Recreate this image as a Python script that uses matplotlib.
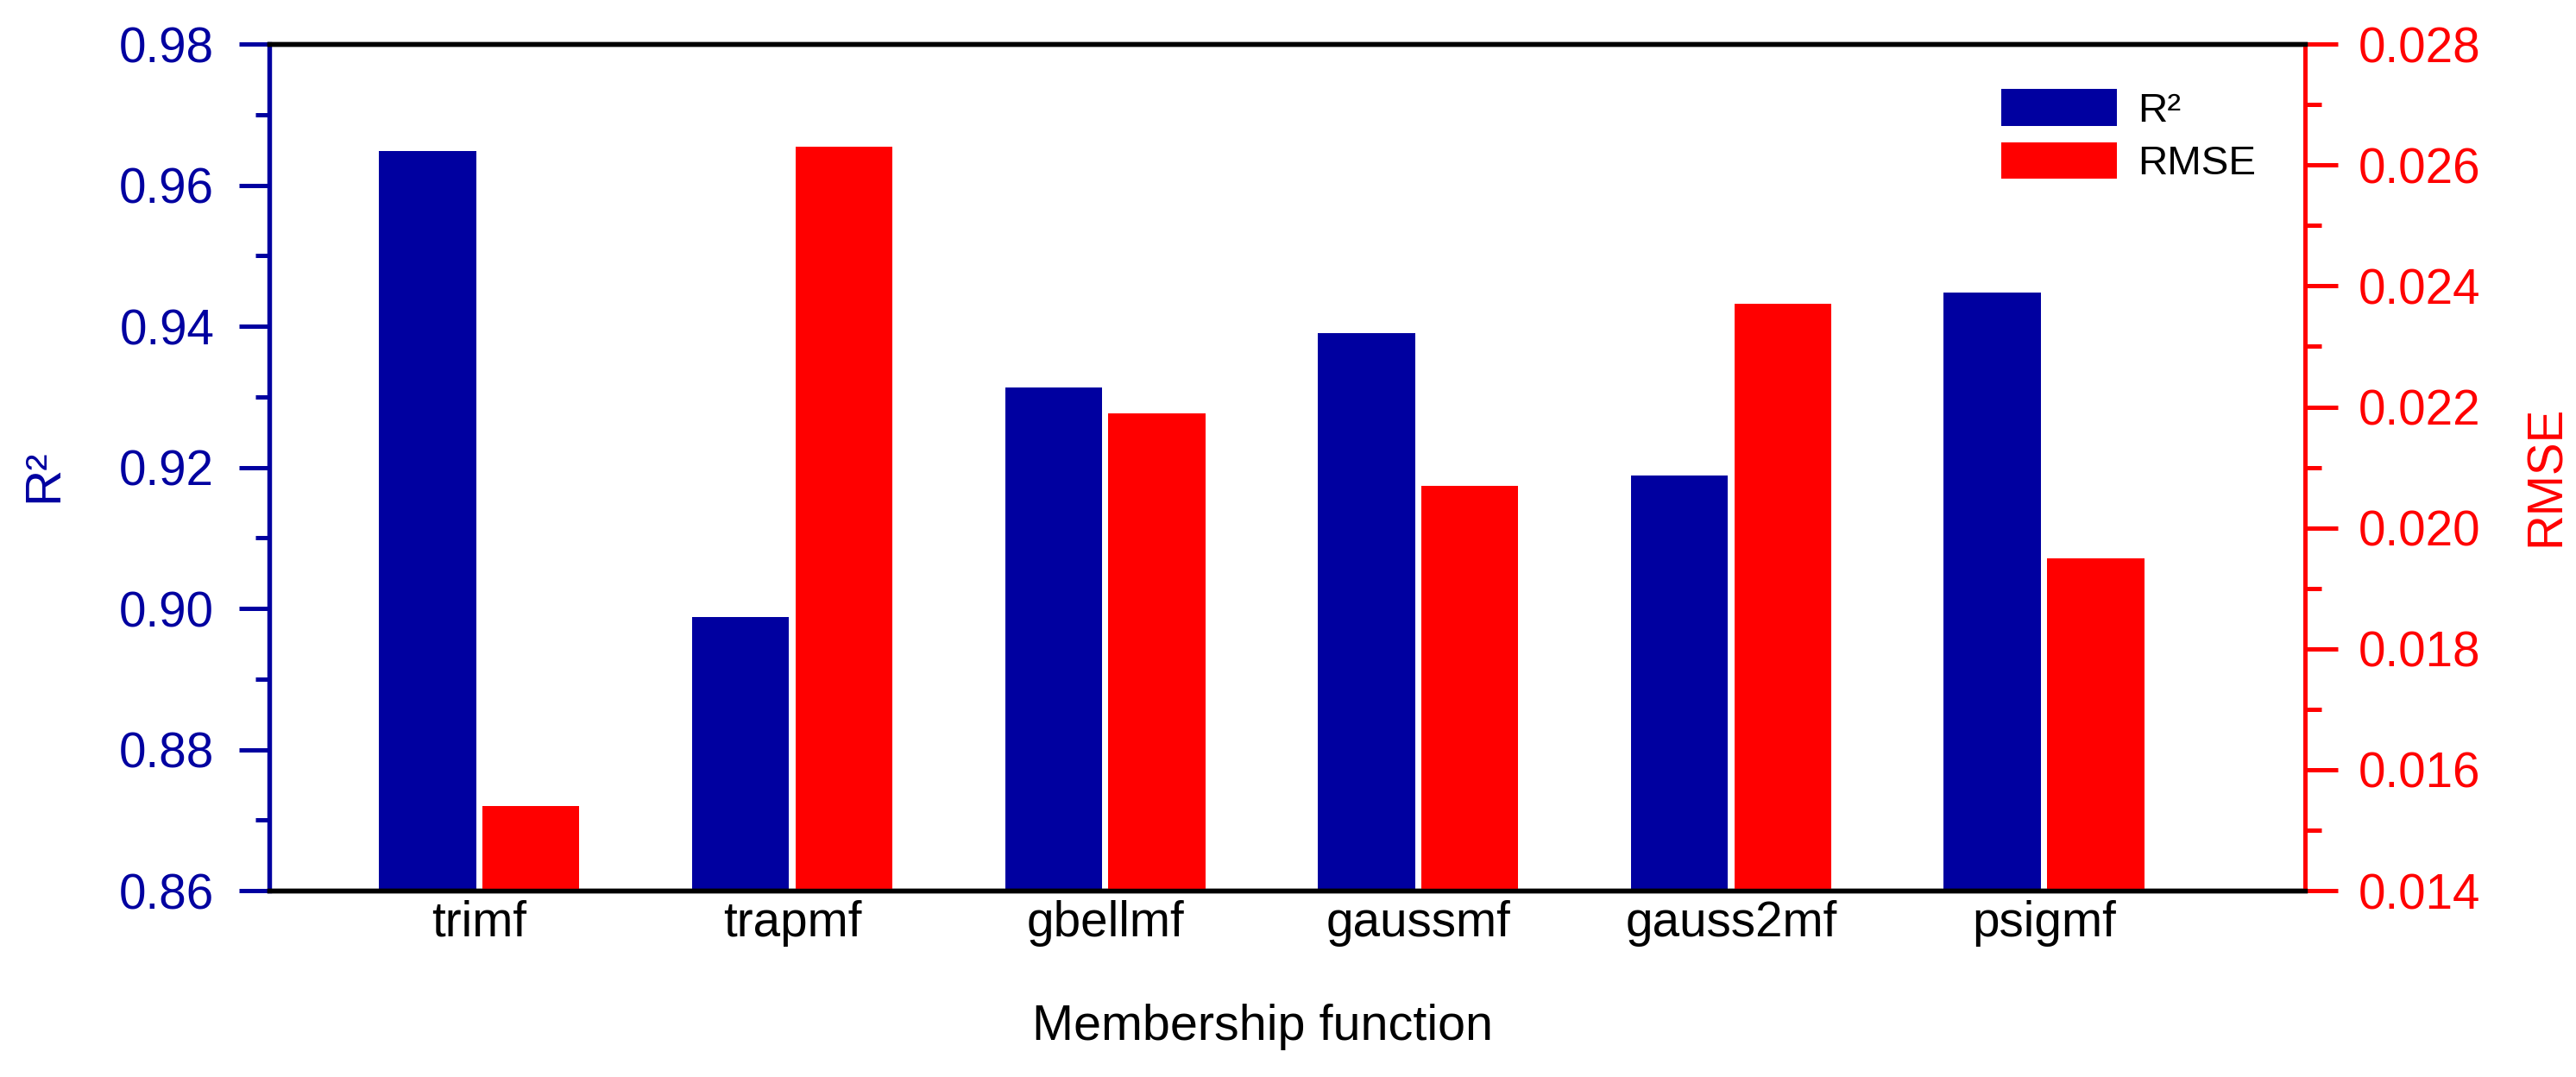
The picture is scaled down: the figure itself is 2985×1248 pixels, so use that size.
import matplotlib
matplotlib.use('Agg')
import matplotlib.pyplot as plt
import numpy as np
from matplotlib.ticker import MultipleLocator, FormatStrFormatter

categories = ['trimf', 'trapmf', 'gbellmf', 'gaussmf', 'gauss2mf', 'psigmf']
r2 = [0.9648, 0.8988, 0.9313, 0.9391, 0.9188, 0.9448]
rmse = [0.0154, 0.0263, 0.0219, 0.0207, 0.0237, 0.0195]

blue = '#0000A0'
red = '#FF0000'

plt.rcParams['font.family'] = ['Liberation Sans', 'DejaVu Sans']

fig = plt.figure(figsize=(9.95, 4.16), dpi=300)
fig.subplots_adjust(left=0.1045, right=0.8948, top=0.959, bottom=0.173)
ax = fig.add_subplot(111)
ax2 = ax.twinx()

x = np.arange(len(categories))
w = 0.31
b1 = ax.bar(x - 0.165, r2, w, color=blue, label='R²', zorder=2)
b2 = ax2.bar(x + 0.165, rmse, w, color=red, label='RMSE', zorder=2)

ax.set_xlim(-0.671, 5.834)
ax.set_ylim(0.86, 0.98)
ax2.set_ylim(0.014, 0.028)

ax.yaxis.set_major_locator(MultipleLocator(0.02))
ax.yaxis.set_minor_locator(MultipleLocator(0.01))
ax.yaxis.set_major_formatter(FormatStrFormatter('%.2f'))
ax2.yaxis.set_major_locator(MultipleLocator(0.002))
ax2.yaxis.set_minor_locator(MultipleLocator(0.001))
ax2.yaxis.set_major_formatter(FormatStrFormatter('%.3f'))

ax.set_xticks(x)
ax.set_xticklabels(categories, fontsize=13.6)
ax.tick_params(axis='x', length=0, pad=2.5)

ax.tick_params(axis='y', which='major', length=8.3, width=1.2, color=blue,
               labelcolor=blue, labelsize=13.6, pad=7)
ax.tick_params(axis='y', which='minor', length=3.8, width=1.2, color=blue)
ax2.tick_params(axis='y', which='major', length=9.1, width=1.2, color=red,
                labelcolor=red, labelsize=13.6, pad=5.8)
ax2.tick_params(axis='y', which='minor', length=4.6, width=1.2, color=red)

for a in (ax, ax2):
    a.spines['top'].set_color('black')
    a.spines['bottom'].set_color('black')
    a.spines['top'].set_linewidth(1.3)
    a.spines['bottom'].set_linewidth(1.3)
ax.spines['left'].set_color(blue)
ax.spines['left'].set_linewidth(1.3)
ax.spines['right'].set_visible(False)
ax2.spines['left'].set_visible(False)
ax2.spines['right'].set_color(red)
ax2.spines['right'].set_linewidth(1.2)

ax.set_xlabel('Membership function', fontsize=13.8)
ax.xaxis.set_label_coords(0.488, -0.133)
ax.set_ylabel('R²', fontsize=14, color=blue)
ax.yaxis.set_label_coords(-0.099, 0.49)
ax2.set_ylabel('RMSE', fontsize=13.6, color=red)
ax2.yaxis.set_label_coords(1.107, 0.49)

ax2.legend([b1, b2], ['R²', 'RMSE'], loc='upper left', bbox_to_anchor=(0.8508, 0.947),
           frameon=False, fontsize=11.4, handlelength=2.83, handleheight=1.0,
           labelspacing=0.3, handletextpad=0.5, borderpad=0, borderaxespad=0)

fig.savefig('out.png', dpi=300)
